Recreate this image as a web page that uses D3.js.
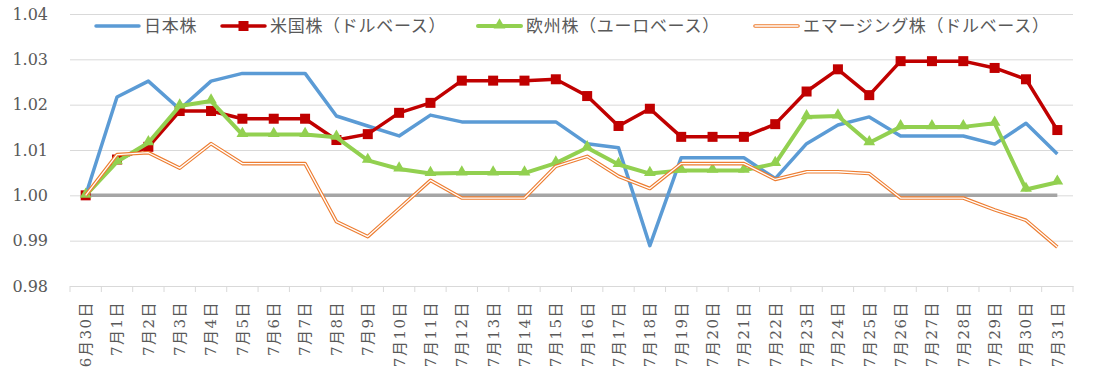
<!DOCTYPE html>
<html>
<head>
<meta charset="utf-8">
<script src="https://cdn.jsdelivr.net/npm/d3@7"></script>
<style>
  body { margin: 0; background: #fff; }
  svg { display: block; }
</style>
</head>
<body>
<div id="chart"></div>
<script>
// categories (trading days)
const days = ["6月30日"].concat(d3.range(1, 32).map(d => "7月" + d + "日"));

// relative level vs 6/30
const japan = [1.0000, 1.0217, 1.0252, 1.0190, 1.0252, 1.0269, 1.0269, 1.0269, 1.0175, 1.0153, 1.0131,
  1.0177, 1.0162, 1.0162, 1.0162, 1.0162, 1.0114, 1.0105, 0.9889, 1.0083, 1.0083, 1.0083,
  1.0037, 1.0114, 1.0155, 1.0173, 1.0131, 1.0131, 1.0131, 1.0113, 1.0159, 1.0091];
const usa = [1.0000, 1.0079, 1.0107, 1.0186, 1.0186, 1.0169, 1.0169, 1.0169, 1.0122, 1.0135, 1.0182,
  1.0204, 1.0253, 1.0253, 1.0253, 1.0256, 1.0219, 1.0153, 1.0191, 1.0129, 1.0129, 1.0129,
  1.0157, 1.0229, 1.0278, 1.0221, 1.0296, 1.0296, 1.0296, 1.0281, 1.0256, 1.0144];
const europe = [1.0000, 1.0074, 1.0116, 1.0197, 1.0208, 1.0134, 1.0134, 1.0134, 1.0128, 1.0077, 1.0058,
  1.0048, 1.0049, 1.0049, 1.0049, 1.0071, 1.0105, 1.0068, 1.0048, 1.0055, 1.0055, 1.0055,
  1.0070, 1.0173, 1.0175, 1.0116, 1.0151, 1.0151, 1.0151, 1.0159, 1.0013, 1.0029];
const emerging = [1.0000, 1.0090, 1.0094, 1.0060, 1.0114, 1.0070, 1.0070, 1.0070, 0.9942, 0.9909, 0.9971,
  1.0033, 0.9994, 0.9994, 0.9994, 1.0064, 1.0086, 1.0042, 1.0015, 1.0070, 1.0070, 1.0070,
  1.0035, 1.0052, 1.0052, 1.0048, 0.9994, 0.9994, 0.9994, 0.9968, 0.9945, 0.9886];
const baseline = days.map(() => 1.0);

const seriesNames = ["日本株", "米国株（ドルベース）", "欧州株（ユーロベース）", "エマージング株（ドルベース）"];
const yTicks = [0.98, 0.99, 1.00, 1.01, 1.02, 1.03, 1.04];

const W = 1099, H = 371;
const margin = { top: 14, right: 26, bottom: 85, left: 70 };

const svg = d3.select("#chart").append("svg")
    .attr("width", W)
    .attr("height", H);

const x = d3.scaleBand()
    .domain(days)
    .range([margin.left, W - margin.right]);

const y = d3.scaleLinear()
    .domain([0.98, 1.04])
    .range([H - margin.bottom, margin.top]);

const cx = d => x(d) + x.bandwidth() / 2;

// y axis + gridlines
const yAxis = svg.append("g")
    .attr("transform", `translate(${margin.left},0)`)
    .call(d3.axisLeft(y).tickValues(yTicks).tickFormat(d3.format(".2f"))
        .tickSize(-(W - margin.left - margin.right)).tickPadding(22));
yAxis.select(".domain").remove();
yAxis.selectAll("line").attr("stroke", "#d9d9d9");
yAxis.selectAll("text")
    .attr("fill", "#595959")
    .style("font-family", "'DejaVu Serif', serif")
    .style("font-size", "16px");

// x axis
const xAxis = svg.append("g")
    .attr("transform", `translate(0,${H - margin.bottom})`)
    .call(d3.axisBottom(x).tickSize(0));
xAxis.select(".domain").attr("stroke", "#d9d9d9");
xAxis.selectAll("text")
    .attr("y", 0)
    .attr("x", -15)
    .attr("dy", "0.36em")
    .attr("transform", "rotate(-90)")
    .style("text-anchor", "end")
    .style("letter-spacing", "1.5px")
    .attr("fill", "#595959")
    .style("font-family", "'DejaVu Serif', 'Noto Sans CJK JP', serif")
    .style("font-size", "15px");

// tick marks between categories
xAxis.selectAll(".sep")
    .data(days.map(d => x(d)).concat([x.range()[1]]))
    .enter().append("line")
    .attr("class", "sep")
    .attr("x1", d => d).attr("x2", d => d)
    .attr("y1", 0).attr("y2", 6)
    .attr("stroke", "#d9d9d9");

const line = d3.line()
    .x((d, i) => cx(days[i]))
    .y(d => y(d));

// base line 1.00
svg.append("path").datum(baseline)
    .attr("d", line).attr("fill", "none")
    .attr("stroke", "#a5a5a5").attr("stroke-width", 3.5);

// 日本株
svg.append("path").datum(japan)
    .attr("d", line).attr("fill", "none")
    .attr("stroke", "#5b9bd5").attr("stroke-width", 3.5)
    .attr("stroke-linejoin", "round");

// 米国株
svg.append("path").datum(usa)
    .attr("d", line).attr("fill", "none")
    .attr("stroke", "#c00000").attr("stroke-width", 3.5)
    .attr("stroke-linejoin", "round");
svg.selectAll(".sq")
    .data(usa)
    .enter().append("rect")
    .attr("class", "sq")
    .attr("x", (d, i) => cx(days[i]) - 5)
    .attr("y", d => y(d) - 5)
    .attr("width", 10).attr("height", 10)
    .attr("fill", "#c00000");

// 欧州株
const tri = d3.symbol().type(d3.symbolTriangle).size(60);
svg.append("path").datum(europe)
    .attr("d", line).attr("fill", "none")
    .attr("stroke", "#92d050").attr("stroke-width", 4)
    .attr("stroke-linejoin", "round");
svg.selectAll(".tri")
    .data(europe)
    .enter().append("path")
    .attr("class", "tri")
    .attr("d", tri)
    .attr("transform", (d, i) => `translate(${cx(days[i])},${y(d) - 1})`)
    .attr("fill", "#92d050");

// エマージング株 (double line)
svg.append("path").datum(emerging)
    .attr("d", line).attr("fill", "none")
    .attr("stroke", "#ed7d31").attr("stroke-width", 3.6)
    .attr("stroke-linejoin", "round");
svg.append("path").datum(emerging)
    .attr("d", line).attr("fill", "none")
    .attr("stroke", "#fff").attr("stroke-width", 1.3)
    .attr("stroke-linejoin", "round");

// legend
const legendX = [96, 222, 478, 755];
const ly = 26;
const legend = svg.append("g");
seriesNames.forEach((name, i) => {
    const x0 = legendX[i];
    const g = legend.append("g");
    if (i === 0) {
        g.append("line").attr("x1", x0).attr("x2", x0 + 43).attr("y1", ly).attr("y2", ly)
            .attr("stroke", "#5b9bd5").attr("stroke-width", 3.5).attr("stroke-linecap", "round");
    } else if (i === 1) {
        g.append("line").attr("x1", x0).attr("x2", x0 + 43).attr("y1", ly).attr("y2", ly)
            .attr("stroke", "#c00000").attr("stroke-width", 3.5).attr("stroke-linecap", "round");
        g.append("rect").attr("x", x0 + 21.5 - 5).attr("y", ly - 5).attr("width", 10).attr("height", 10)
            .attr("fill", "#c00000");
    } else if (i === 2) {
        g.append("line").attr("x1", x0).attr("x2", x0 + 43).attr("y1", ly).attr("y2", ly)
            .attr("stroke", "#92d050").attr("stroke-width", 4).attr("stroke-linecap", "round");
        g.append("path").attr("d", tri).attr("transform", `translate(${x0 + 21.5},${ly - 1})`)
            .attr("fill", "#92d050");
    } else {
        g.append("line").attr("x1", x0).attr("x2", x0 + 43).attr("y1", ly).attr("y2", ly)
            .attr("stroke", "#ed7d31").attr("stroke-width", 3.6).attr("stroke-linecap", "round");
        g.append("line").attr("x1", x0).attr("x2", x0 + 43).attr("y1", ly).attr("y2", ly)
            .attr("stroke", "#fff").attr("stroke-width", 1.3).attr("stroke-linecap", "round");
    }
    g.append("text")
        .attr("x", x0 + 48).attr("y", ly).attr("dy", "0.36em")
        .attr("fill", "#595959")
        .style("font-family", "'Noto Sans CJK JP', sans-serif")
        .style("font-size", "17px")
        .style("letter-spacing", "0.7px")
        .text(name);
});
</script>
</body>
</html>
